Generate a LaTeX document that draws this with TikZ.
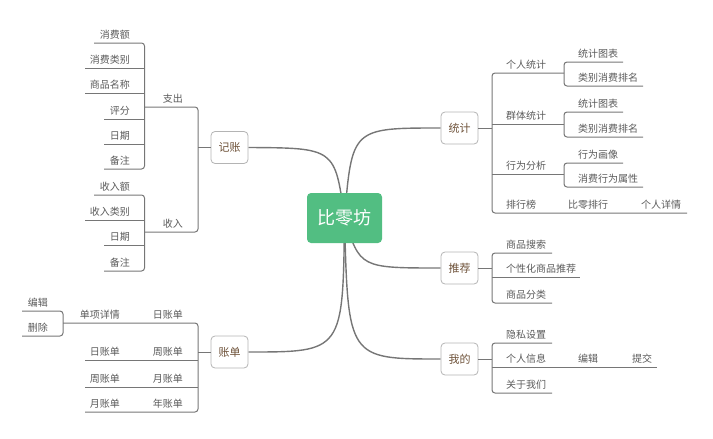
\documentclass[tikz,border=0pt]{standalone}
\usepackage{fontspec}
\setmainfont{Noto Sans CJK SC}
\usetikzlibrary{backgrounds}
\definecolor{linec}{HTML}{767676}
\definecolor{boxc}{HTML}{B4B4B4}
\definecolor{leafc}{HTML}{5A5A5A}
\definecolor{topc}{HTML}{6E5239}
\definecolor{greenc}{HTML}{52BE82}
\newcommand\leafL[4]{\node[leaf,anchor=base east] (#1) at (#2,#3) {#4};}
\newcommand\leafR[4]{\node[leaf,anchor=base west] (#1) at (#2,#3) {#4};}
\begin{document}
\begin{tikzpicture}[x=1pt,y=-1pt,
  leaf/.style={font=\fontsize{10}{12}\selectfont, text=leafc, inner sep=0pt},
  topic/.style={draw=boxc, fill=white, rounded corners=4pt, minimum width=37pt, minimum height=32pt, inner sep=0pt, font=\fontsize{11}{13}\selectfont, text=topc, line width=0.8pt},
  root/.style={fill=greenc, rounded corners=4pt, minimum width=75pt, minimum height=50pt, inner sep=0pt, font=\fontsize{18}{20}\selectfont, text=white},
  ln/.style={draw=linec, line width=1pt, rounded corners=3pt},
  mainln/.style={draw=linec, line width=1.4pt}]
\useasboundingbox (0,0) rectangle (713,439);

% root and topics
\node[root] (c) at (344.5,218) {比零坊};
\node[topic] (jz) at (229.5,147.5) {记账};
\node[topic] (zd) at (229.5,352) {账单};
\node[topic] (tj) at (459.5,128) {统计};
\node[topic] (tuij) at (459.5,268) {推荐};
\node[topic] (wd) at (459.5,359) {我的};

\begin{scope}[on background layer]
\draw[mainln] (c.center) .. controls (335,148) .. (jz.east);
\draw[mainln] (c.center) .. controls (352,128) .. (tj.west);
\draw[mainln] (c.center) .. controls (360,268) .. (tuij.west);
\draw[mainln] (c.center) .. controls (343,352) .. (zd.east);
\draw[mainln] (c.center) .. controls (348,359) .. (wd.west);
\end{scope}

% ---------- 记账 ----------
\draw[ln] (jz.west) -- ++(-13,0);
\draw[ln] (144.5,107) -- (198,107) -- (198,232) -- (144.5,232);
\leafL{zc}{183}{102.5}{支出}
\leafL{sr}{183}{227.5}{收入}
\draw[ln] (94,43) -- (144.5,43) -- (144.5,169) -- (104,169);
\draw[ln] (85,68) -- (144.5,68);
\draw[ln] (85,93) -- (144.5,93);
\draw[ln] (104,119) -- (144.5,119);
\draw[ln] (104,144) -- (144.5,144);
\leafL{zc1}{130}{38.5}{消费额}
\leafL{zc2}{130}{63.5}{消费类别}
\leafL{zc3}{130}{88.5}{商品名称}
\leafL{zc4}{130}{114.5}{评分}
\leafL{zc5}{130}{139.5}{日期}
\leafL{zc6}{130}{164.5}{备注}
\draw[ln] (94,195) -- (144.5,195) -- (144.5,271) -- (104,271);
\draw[ln] (85,220) -- (144.5,220);
\draw[ln] (104,245) -- (144.5,245);
\leafL{sr1}{130}{190.5}{收入额}
\leafL{sr2}{130}{215.5}{收入类别}
\leafL{sr3}{130}{240.5}{日期}
\leafL{sr4}{130}{266.5}{备注}

% ---------- 账单 ----------
\draw[ln] (zd.west) -- ++(-13,0);
\draw[ln] (63,323) -- (198,323) -- (198,412) -- (85,412);
\draw[ln] (85,360) -- (198,360);
\draw[ln] (85,387) -- (198,387);
\draw[ln] (22,311) -- (63,311) -- (63,336) -- (22,336);
\leafL{bj}{48}{306.5}{编辑}
\leafL{sc}{48}{331.5}{删除}
\leafL{dx}{120}{318.5}{单项详情}
\leafL{rzd}{183}{318.5}{日账单}
\leafL{rzd2}{120}{355.5}{日账单}
\leafL{zzd}{183}{355.5}{周账单}
\leafL{zzd2}{120}{382.5}{周账单}
\leafL{yzd}{183}{382.5}{月账单}
\leafL{yzd2}{120}{407.5}{月账单}
\leafL{nzd}{183}{407.5}{年账单}

% ---------- 统计 ----------
\draw[ln] (tj.east) -- ++(14,0);
\draw[ln] (564,73) -- (492,73) -- (492,213) -- (687,213);
\draw[ln] (492,124) -- (564,124);
\draw[ln] (492,174) -- (564,174);
\draw[ln] (623,62) -- (564,62) -- (564,86) -- (643,86);
\draw[ln] (623,112) -- (564,112) -- (564,137) -- (643,137);
\draw[ln] (623,163) -- (564,163) -- (564,187) -- (643,187);
\leafR{grtj}{506}{68.5}{个人统计}
\leafR{tb1}{578}{57.5}{统计图表}
\leafR{pm1}{578}{81.5}{类别消费排名}
\leafR{qttj}{506}{119.5}{群体统计}
\leafR{tb2}{578}{107.5}{统计图表}
\leafR{pm2}{578}{132.5}{类别消费排名}
\leafR{xwfx}{506}{169.5}{行为分析}
\leafR{hx}{578}{158.5}{行为画像}
\leafR{sx}{578}{182.5}{消费行为属性}
\leafR{phb}{506}{208.5}{排行榜}
\leafR{blph}{568}{208.5}{比零排行}
\leafR{grxq}{641}{208.5}{个人详情}

% ---------- 推荐 ----------
\draw[ln] (tuij.east) -- ++(14,0);
\draw[ln] (552,253) -- (492,253) -- (492,303) -- (552,303);
\draw[ln] (492,277) -- (580,277);
\leafR{spss}{506}{248.5}{商品搜索}
\leafR{gxh}{506}{272.5}{个性化商品推荐}
\leafR{spfl}{506}{298.5}{商品分类}

% ---------- 我的 ----------
\draw[ln] (wd.east) -- ++(14,0);
\draw[ln] (552,343) -- (492,343) -- (492,393) -- (552,393);
\draw[ln] (492,367) -- (657,367);
\leafR{yssz}{506}{338.5}{隐私设置}
\leafR{grxx}{506}{362.5}{个人信息}
\leafR{bj2}{578}{362.5}{编辑}
\leafR{tjiao}{632}{362.5}{提交}
\leafR{gywm}{506}{388.5}{关于我们}
\end{tikzpicture}
\end{document}
